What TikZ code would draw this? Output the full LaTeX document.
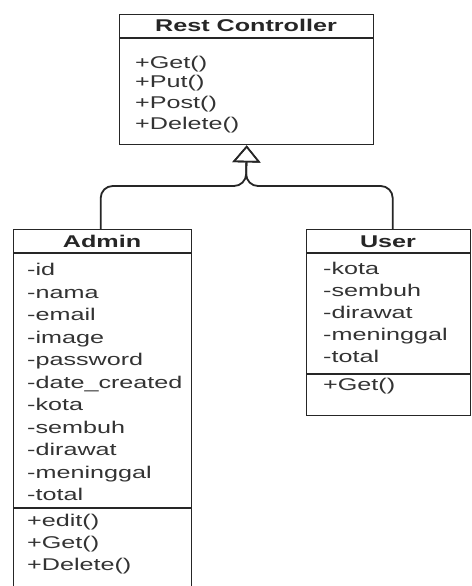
\documentclass[tikz,border=0pt]{standalone}
\usepackage{fontspec}
\setmainfont[FakeStretch=1.48]{Liberation Sans}
\usetikzlibrary{arrows.meta}
\begin{document}
\begin{tikzpicture}[x=1pt,y=-1pt,
  classbox/.style={draw=black!85, line width=1.4pt, anchor=north west, inner sep=0, rectangle},
  member/.style={anchor=base west, inner sep=0, text=black!80, font=\fontsize{17}{20}\selectfont},
  title/.style={anchor=base, inner sep=0, text=black!85, font=\fontsize{17}{20}\selectfont\bfseries},
  inherit/.style={draw=black!85, line width=1.8pt, rounded corners=12pt, -{Triangle[open, length=17pt, width=28pt, line width=1.6pt]}}]
\useasboundingbox (0,0) rectangle (471,586);
\clip (0,0) rectangle (471,586);
\fill[white] (0,0) rectangle (471,586);
\node[classbox, minimum width=254pt, minimum height=130pt] (rc) at (119,14){};
\draw[draw=black!85, line width=1.4pt] (119,38) -- (373,38);
\node[title] (rctitle) at (246,32){Rest Controller};
\node[member] (rcget) at (135,68){+Get()};
\node[member] (rcput) at (135,88){+Put()};
\node[member] (rcpost) at (135,108){+Post()};
\node[member] (rcdelete) at (135,129){+Delete()};
\node[classbox, minimum width=178pt, minimum height=380pt] (admin) at (13,229){};
\draw[draw=black!85, line width=1.4pt] (13,253) -- (191,253);
\draw[draw=black!85, line width=1.4pt] (13,508) -- (191,508);
\node[title] (admintitle) at (102,247){Admin};
\foreach \name [count=\i from 0] in {id,nama,email,image,password,date\_created,kota,sembuh,dirawat,meninggal,total}
  \node[member] (aattr\i) at (27,{275.5+22.5*\i}){-\name};
\node[member] (aedit) at (27,526){+edit()};
\node[member] (aget) at (27,548){+Get()};
\node[member] (adelete) at (27,570){+Delete()};
\node[classbox, minimum width=164pt, minimum height=186pt] (user) at (306,229){};
\draw[draw=black!85, line width=1.4pt] (306,253) -- (470,253);
\draw[draw=black!85, line width=1.4pt] (306,374) -- (470,374);
\node[title] (usertitle) at (388,247){User};
\foreach \name [count=\i from 0] in {kota,sembuh,dirawat,meninggal,total}
  \node[member] (uattr\i) at (323,{274.5+22*\i}){-\name};
\node[member] (uget) at (323,390){+Get()};
\coordinate (jn) at (246,186);
\draw[inherit] ([xshift=-2pt]admin.north) |- (jn) -- (rc.south);
\draw[inherit] ([xshift=4pt]user.north) |- (jn) -- (rc.south);
\end{tikzpicture}
\end{document}
